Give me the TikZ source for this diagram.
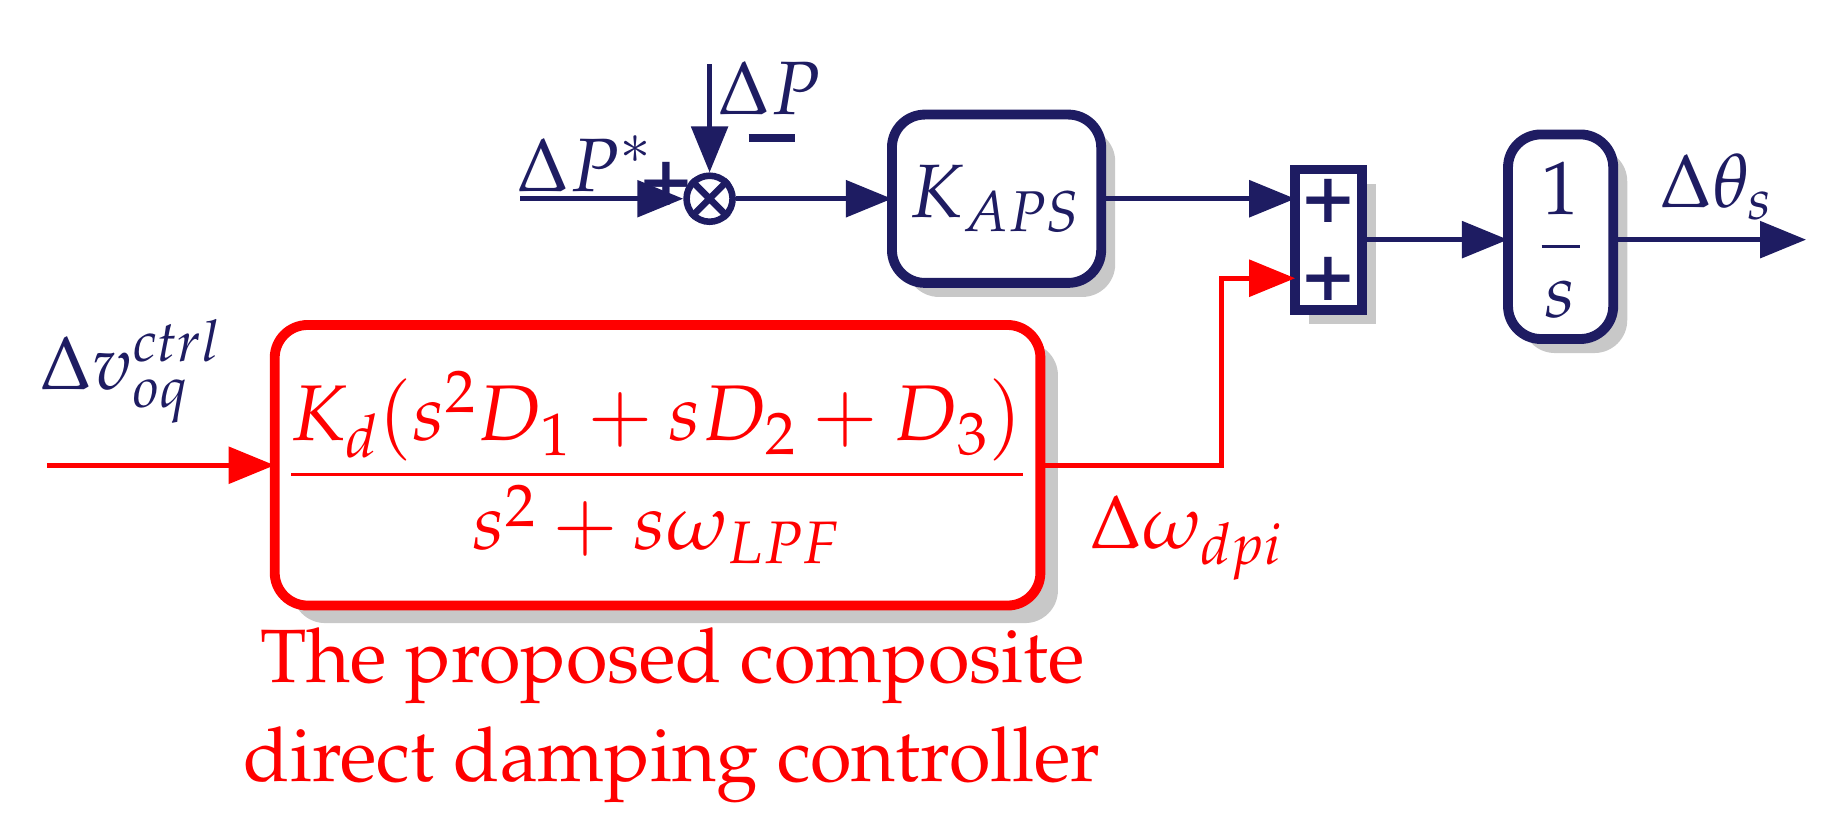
\documentclass[tikz,border=0pt]{standalone}
\usepackage[T1]{fontenc}
\usepackage{mathpazo}
\usepackage{amsmath,amssymb,bm}
\usetikzlibrary{arrows.meta}
\definecolor{navy}{RGB}{30,28,98}
\definecolor{shad}{RGB}{200,200,200}
\begin{document}
\fontsize{20}{24}\selectfont
\begin{tikzpicture}[x=0.0125cm,y=-0.0125cm,
  nv/.style={draw=navy,line width=1.6pt},
  rd/.style={draw=red,line width=1.6pt},
  arr/.style={-{Triangle[length=14pt,width=11pt]}},
  box/.style={rounded corners=10pt,fill=white,line width=3pt},
  pl/.style={text=navy,font=\fontsize{26}{26}\selectfont\bfseries,inner sep=0}]
\useasboundingbox (0,0) rectangle (1568,702);
% shadows
\fill[shad,rounded corners=10pt] (775,110) rectangle (954,254);
\fill[shad] (1120,157) rectangle (1177,277);
\fill[shad,rounded corners=10pt] (1302,127) rectangle (1392,302);
\fill[shad,rounded corners=10pt] (250,293) rectangle (905,533);
% blocks
\draw[box,draw=navy] (763,98) rectangle (942,242);
\node[text=navy,font=\fontsize{23}{26}\selectfont] (kaps) at (852,170) {$K_{APS}$};
\coordinate (kin) at (763,170); \coordinate (kout) at (942,170);
\draw[draw=navy,line width=3pt,fill=white] (1108,145) rectangle (1165,265);
\node[pl] at (1136,172) {+};
\node[pl] at (1136,238) {+};
\coordinate (s1) at (1108,170); \coordinate (s2) at (1108,238); \coordinate (sout) at (1165,205);
\draw[box,draw=navy] (1290,115) rectangle (1380,290);
\node[text=navy,font=\fontsize{23}{26}\selectfont] (int) at (1335,205) {$\dfrac{1}{s}$};
\coordinate (iin) at (1290,205); \coordinate (iout) at (1380,205);
\draw[box,draw=red] (235,278) rectangle (890,518);
\node[text=red,font=\fontsize{24}{28}\selectfont] (ctl) at (562,400) {$\dfrac{K_d(s^2D_1+sD_2+D_3)}{s^2+s\omega_{LPF}}$};
\coordinate (cin) at (235,398); \coordinate (cout) at (890,398);
% sum circle
\node[circle,draw=navy,line width=2pt,minimum size=14pt,inner sep=0] (sum) at (607,170) {};
\draw[navy,line width=2pt] (sum.north west)--(sum.south east) (sum.north east)--(sum.south west);
% signals
\coordinate (a0) at (445,170); \coordinate (b0) at (607,55);
\draw[nv,arr] (a0) -- (sum.west);
\draw[nv,arr] (b0) -- (sum.north);
\draw[nv,arr] (sum.east) -- (kin);
\draw[nv,arr] (kout) -- (s1);
\draw[nv,arr] (sout) -- (iin);
\coordinate (o) at (1545,205);
\draw[nv,arr] (iout) -- (o);
\coordinate (r0) at (40,398);
\draw[rd,arr] (r0) -- (cin);
\coordinate (c1) at (1045,398); \coordinate (c2) at (1045,238);
\draw[rd,arr] (cout) -- (c1) -- (c2) -- (s2);
% labels
\node[text=navy,font=\fontsize{23}{26}\selectfont] at (500,140) {$\Delta P^{*}$};
\node[pl] at (570,157) {+};
\node[text=navy,font=\fontsize{23}{26}\selectfont] at (658,75) {$\Delta P$};
\node[pl] at (660,118) {\rule{14pt}{2.5pt}};
\node[text=navy,font=\fontsize{23}{26}\selectfont] at (1468,160) {$\Delta\theta_s$};
\node[text=navy,font=\fontsize{23}{26}\selectfont] at (112,318) {$\Delta v_{oq}^{ctrl}$};
\node[text=red,font=\fontsize{23}{26}\selectfont] at (1015,460) {$\Delta\omega_{dpi}$};
\node[text=red,align=center,font=\fontsize{23}{30}\selectfont] at (575,612) {The proposed composite\\direct damping controller};
\end{tikzpicture}
\end{document}
